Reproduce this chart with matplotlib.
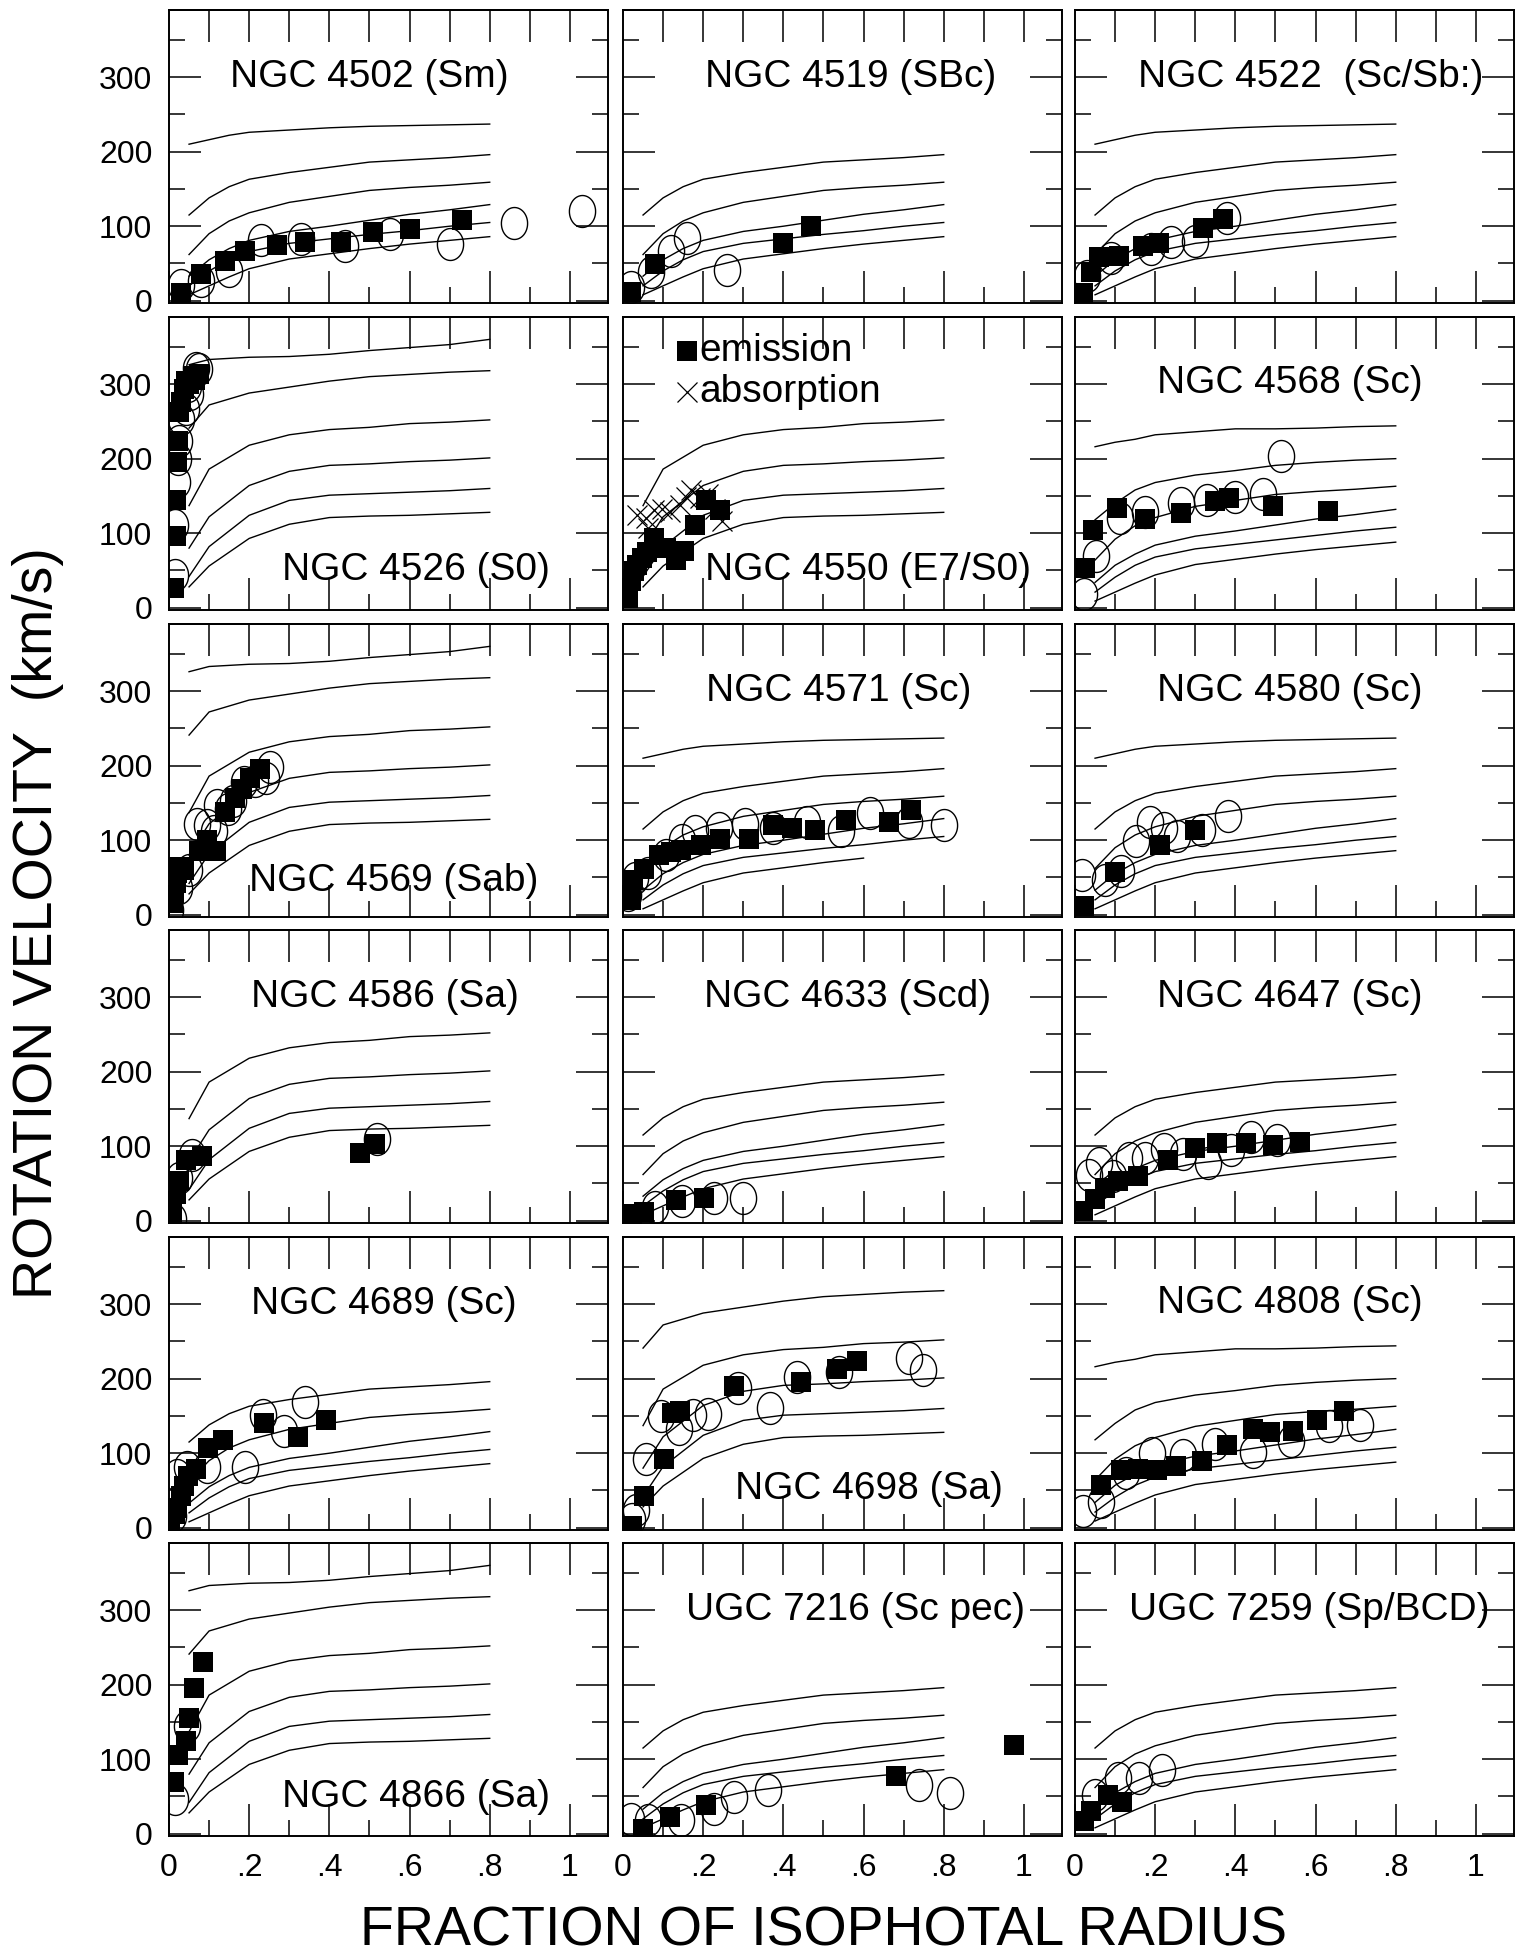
import numpy as np
import matplotlib
matplotlib.use('Agg')
import matplotlib.pyplot as plt
from matplotlib.path import Path
from matplotlib.ticker import MultipleLocator, FuncFormatter

plt.rcParams['font.family'] = ['Liberation Sans', 'DejaVu Sans']

# model rotation curves
late_r = [0.05, 0.1, 0.15, 0.2, 0.3, 0.4, 0.5, 0.6, 0.7, 0.8]
late_v = [[210, 216, 222, 226, 229, 232, 234, 235, 236, 237],
          [115, 138, 153, 163, 172, 179, 186, 189, 192, 196],
          [62, 90, 107, 118, 132, 140, 148, 152, 155, 159],
          [33, 55, 70, 81, 93, 100, 108, 116, 122, 129],
          [20, 40, 55, 66, 77, 83, 89, 94, 100, 105],
          [8, 20, 32, 43, 56, 63, 70, 76, 81, 86]]
sc_v = [[216, 222, 226, 232, 236, 240, 240, 241, 243, 244],
        [118, 140, 158, 168, 178, 184, 191, 195, 198, 200],
        [64, 92, 110, 121, 136, 144, 152, 156, 159, 163],
        [34, 57, 72, 84, 96, 103, 111, 119, 125, 132],
        [21, 41, 57, 68, 79, 85, 91, 97, 103, 108],
        [9, 21, 33, 44, 58, 65, 72, 78, 83, 88]]
early_r = [0.05, 0.1, 0.2, 0.3, 0.4, 0.5, 0.6, 0.7, 0.8]
early_v = [[326, 333, 336, 337, 340, 345, 349, 353, 360],
           [241, 272, 288, 296, 304, 310, 313, 316, 318],
           [137, 186, 218, 232, 239, 242, 247, 249, 252],
           [80, 122, 164, 183, 191, 193, 196, 198, 201],
           [42, 82, 124, 144, 151, 153, 155, 157, 160],
           [28, 56, 93, 112, 121, 123, 124, 126, 128]]

# observed points: sq = emission, ci = open circles, cr = absorption
n4502_sq_x = [0.03, 0.08, 0.14, 0.19, 0.27, 0.34, 0.43, 0.51, 0.60, 0.73]
n4502_sq_y = [11, 36, 54, 67, 75, 79, 79, 92, 96, 108]
n4502_ci_x = [0.03, 0.08, 0.15, 0.23, 0.33, 0.44, 0.55, 0.70, 0.86, 1.03]
n4502_ci_y = [21, 27, 40, 81, 83, 73, 89, 76, 104, 121]

n4519_sq_x = [0.02, 0.08, 0.40, 0.47]
n4519_sq_y = [12, 49, 78, 100]
n4519_ci_x = [0.02, 0.07, 0.12, 0.16, 0.26]
n4519_ci_y = [18, 38, 67, 84, 41]

n4522_sq_x = [0.02, 0.04, 0.06, 0.11, 0.17, 0.21, 0.32, 0.37]
n4522_sq_y = [11, 38, 59, 60, 73, 78, 97, 109]
n4522_ci_x = [0.03, 0.09, 0.19, 0.24, 0.30, 0.38]
n4522_ci_y = [33, 58, 70, 79, 80, 111]

n4526_sq_x = [0.012, 0.017, 0.017, 0.020, 0.022, 0.026, 0.031, 0.037, 0.042, 0.05, 0.059, 0.065, 0.076]
n4526_sq_y = [27, 96, 144, 196, 224, 262, 276, 293, 304, 300, 311, 305, 313]
n4526_ci_x = [0.014, 0.014, 0.020, 0.023, 0.026, 0.031, 0.042, 0.048, 0.053, 0.068, 0.076]
n4526_ci_y = [44, 111, 169, 200, 224, 253, 267, 298, 287, 322, 320]

n4550_sq_x = [0.005, 0.013, 0.019, 0.028, 0.036, 0.047, 0.06, 0.077, 0.077, 0.108, 0.132, 0.152, 0.18, 0.208, 0.241]
n4550_sq_y = [15, 13, 36, 49, 58, 67, 75, 84, 93, 80, 64, 76, 111, 144, 131]
n4550_cr_x = [0.036, 0.058, 0.063, 0.077, 0.097, 0.117, 0.141, 0.158, 0.169, 0.191, 0.213, 0.23, 0.247]
n4550_cr_y = [124, 120, 107, 131, 133, 129, 138, 149, 158, 147, 153, 133, 116]

n4568_sq_x = [0.026, 0.045, 0.105, 0.175, 0.264, 0.348, 0.384, 0.495, 0.63]
n4568_sq_y = [53, 104, 134, 119, 127, 143, 147, 136, 130]
n4568_ci_x = [0.023, 0.053, 0.112, 0.175, 0.264, 0.329, 0.40, 0.468, 0.513]
n4568_ci_y = [18, 70, 120, 128, 140, 144, 148, 153, 204]

n4569_sq_x = [0.009, 0.012, 0.017, 0.020, 0.026, 0.037, 0.076, 0.094, 0.117, 0.14, 0.164, 0.183, 0.203, 0.226]
n4569_sq_y = [16, 29, 42, 56, 64, 60, 86, 100, 86, 138, 156, 169, 184, 196]
n4569_ci_x = [0.003, 0.026, 0.05, 0.07, 0.094, 0.112, 0.12, 0.148, 0.159, 0.187, 0.214, 0.242, 0.253]
n4569_ci_y = [7, 36, 60, 122, 120, 113, 147, 142, 153, 178, 180, 184, 198]

n4571_sq_x = [0.019, 0.024, 0.052, 0.09, 0.12, 0.145, 0.194, 0.243, 0.314, 0.375, 0.421, 0.479, 0.557, 0.664, 0.719]
n4571_sq_y = [20, 47, 62, 80, 84, 87, 94, 102, 101, 120, 117, 114, 127, 124, 141]
n4571_ci_x = [0.013, 0.03, 0.063, 0.108, 0.147, 0.18, 0.239, 0.304, 0.375, 0.459, 0.543, 0.615, 0.713, 0.80]
n4571_ci_y = [27, 49, 56, 80, 100, 113, 117, 122, 117, 125, 112, 136, 124, 120]

n4580_sq_x = [0.023, 0.099, 0.212, 0.299]
n4580_sq_y = [12, 57, 94, 114]
n4580_ci_x = [0.017, 0.075, 0.114, 0.151, 0.186, 0.222, 0.255, 0.316, 0.381]
n4580_ci_y = [54, 46, 59, 99, 125, 117, 105, 114, 132]

n4586_sq_x = [0.007, 0.018, 0.026, 0.042, 0.083, 0.476, 0.514]
n4586_sq_y = [9, 36, 53, 82, 87, 91, 103]
n4586_ci_x = [0.009, 0.026, 0.057, 0.518]
n4586_ci_y = [2, 57, 88, 109]

n4633_sq_x = [0.022, 0.052, 0.133, 0.202]
n4633_sq_y = [9, 12, 28, 30]
n4633_ci_x = [0.08, 0.147, 0.227, 0.30]
n4633_ci_y = [18, 27, 31, 31]

n4647_sq_x = [0.021, 0.049, 0.075, 0.108, 0.156, 0.231, 0.299, 0.355, 0.426, 0.494, 0.56]
n4647_sq_y = [13, 29, 44, 53, 60, 82, 98, 104, 104, 102, 106]
n4647_ci_x = [0.036, 0.06, 0.095, 0.134, 0.175, 0.221, 0.27, 0.331, 0.39, 0.439, 0.504]
n4647_ci_y = [62, 78, 60, 84, 84, 96, 89, 78, 95, 113, 108]

n4689_sq_x = [0.003, 0.014, 0.02, 0.031, 0.037, 0.048, 0.067, 0.098, 0.134, 0.237, 0.322, 0.392]
n4689_sq_y = [1, 18, 27, 42, 56, 69, 79, 107, 118, 141, 122, 144]
n4689_ci_x = [0.009, 0.02, 0.044, 0.094, 0.19, 0.234, 0.287, 0.34]
n4689_ci_y = [16, 71, 82, 81, 81, 151, 130, 169]

n4698_sq_x = [0.022, 0.052, 0.102, 0.122, 0.143, 0.276, 0.443, 0.534, 0.583]
n4698_sq_y = [2, 43, 92, 154, 156, 190, 196, 213, 224]
n4698_ci_x = [0.022, 0.032, 0.058, 0.094, 0.139, 0.174, 0.211, 0.287, 0.366, 0.434, 0.538, 0.713, 0.749]
n4698_ci_y = [12, 24, 92, 150, 132, 151, 153, 187, 160, 202, 209, 228, 211]

n4808_sq_x = [0.065, 0.114, 0.156, 0.205, 0.251, 0.318, 0.378, 0.443, 0.487, 0.543, 0.604, 0.67]
n4808_sq_y = [57, 77, 79, 78, 83, 90, 111, 133, 129, 130, 144, 156]
n4808_ci_x = [0.021, 0.066, 0.127, 0.192, 0.27, 0.348, 0.445, 0.539, 0.634, 0.712]
n4808_ci_y = [22, 34, 73, 100, 98, 113, 101, 117, 136, 138]

n4866_sq_x = [0.012, 0.023, 0.042, 0.05, 0.062, 0.084]
n4866_sq_y = [69, 105, 125, 155, 195, 230]
n4866_ci_x = [0.014, 0.046]
n4866_ci_y = [47, 144]

u7216_sq_x = [0.049, 0.116, 0.207, 0.681, 0.975]
u7216_sq_y = [7, 23, 38, 78, 119]
u7216_ci_x = [0.019, 0.063, 0.144, 0.227, 0.278, 0.362, 0.739, 0.815]
u7216_ci_y = [20, 19, 19, 33, 49, 59, 65, 55]

u7259_sq_x = [0.023, 0.04, 0.082, 0.117]
u7259_sq_y = [17, 31, 52, 43]
u7259_ci_x = [0.049, 0.108, 0.16, 0.216]
u7259_ci_y = [52, 75, 75, 86]

# panel table: title, label position, curve family, curves shown, points
panels = [
    ('NGC 4502 (Sm)', 0.50, 300, 'late', [0, 1, 2, 3, 4, 5], (n4502_sq_x, n4502_sq_y), (n4502_ci_x, n4502_ci_y), None),
    ('NGC 4519 (SBc)', 0.567, 300, 'late', [1, 2, 3, 4, 5], (n4519_sq_x, n4519_sq_y), (n4519_ci_x, n4519_ci_y), None),
    ('NGC 4522  (Sc/Sb:)', 0.587, 300, 'late', [0, 1, 2, 3, 4, 5], (n4522_sq_x, n4522_sq_y), (n4522_ci_x, n4522_ci_y), None),
    ('NGC 4526 (S0)', 0.617, 50, 'early', [0, 1, 2, 3, 4, 5], (n4526_sq_x, n4526_sq_y), (n4526_ci_x, n4526_ci_y), None),
    ('NGC 4550 (E7/S0)', 0.61, 50, 'early', [2, 3, 4, 5], (n4550_sq_x, n4550_sq_y), None, (n4550_cr_x, n4550_cr_y)),
    ('NGC 4568 (Sc)', 0.535, 302, 'sc', [0, 1, 2, 3, 4, 5], (n4568_sq_x, n4568_sq_y), (n4568_ci_x, n4568_ci_y), None),
    ('NGC 4569 (Sab)', 0.56, 45, 'early', [0, 1, 2, 3, 4, 5], (n4569_sq_x, n4569_sq_y), (n4569_ci_x, n4569_ci_y), None),
    ('NGC 4571 (Sc)', 0.537, 300, 'late', [0, 1, 2, 3, 4, 5], (n4571_sq_x, n4571_sq_y), (n4571_ci_x, n4571_ci_y), None),
    ('NGC 4580 (Sc)', 0.535, 300, 'late', [0, 1, 2, 3, 4, 5], (n4580_sq_x, n4580_sq_y), (n4580_ci_x, n4580_ci_y), None),
    ('NGC 4586 (Sa)', 0.538, 300, 'early', [2, 3, 4, 5], (n4586_sq_x, n4586_sq_y), (n4586_ci_x, n4586_ci_y), None),
    ('NGC 4633 (Scd)', 0.56, 300, 'late', [1, 2, 3, 4, 5], (n4633_sq_x, n4633_sq_y), (n4633_ci_x, n4633_ci_y), None),
    ('NGC 4647 (Sc)', 0.535, 300, 'late', [1, 2, 3, 4, 5], (n4647_sq_x, n4647_sq_y), (n4647_ci_x, n4647_ci_y), None),
    ('NGC 4689 (Sc)', 0.537, 300, 'late', [1, 2, 3, 4, 5], (n4689_sq_x, n4689_sq_y), (n4689_ci_x, n4689_ci_y), None),
    ('NGC 4698 (Sa)', 0.614, 52, 'early', [1, 2, 3, 4, 5], (n4698_sq_x, n4698_sq_y), (n4698_ci_x, n4698_ci_y), None),
    ('NGC 4808 (Sc)', 0.535, 302, 'sc', [0, 1, 2, 3, 4, 5], (n4808_sq_x, n4808_sq_y), (n4808_ci_x, n4808_ci_y), None),
    ('NGC 4866 (Sa)', 0.617, 49, 'early', [0, 1, 2, 3, 4, 5], (n4866_sq_x, n4866_sq_y), (n4866_ci_x, n4866_ci_y), None),
    ('UGC 7216 (Sc pec)', 0.58, 300, 'late', [1, 2, 3, 4, 5], (u7216_sq_x, u7216_sq_y), (u7216_ci_x, u7216_ci_y), None),
    ('UGC 7259 (Sp/BCD)', 0.585, 300, 'late', [1, 2, 3, 4, 5], (u7259_sq_x, u7259_sq_y), (u7259_ci_x, u7259_ci_y), None),
]
families = {'late': (late_r, late_v), 'sc': (late_r, sc_v), 'early': (early_r, early_v)}
curve_cut = {'NGC 4571 (Sc)': (5, 0.6)}

W, H = 1515, 1959
fig = plt.figure(figsize=(W / 100, H / 100), dpi=100)

col_left = [169, 623, 1075]
row_top = [10, 317, 624, 930, 1237, 1543]
pw, ph = 439, 293

t = np.linspace(0, 2 * np.pi, 64)
ellipse = Path(np.column_stack([0.82 * np.cos(t), np.sin(t)]))


def xfmt(v, pos):
    if abs(v) < 1e-6:
        return '0'
    if abs(v - 1) < 1e-6:
        return '1'
    return ('%.1f' % v).lstrip('0')


for i, (title, tx, ty, fam, curves, sq, ci, cr) in enumerate(panels):
    row, col = divmod(i, 3)
    ax = fig.add_axes([col_left[col] / W, 1 - (row_top[row] + ph) / H, pw / W, ph / H])

    r, vv = families[fam]
    for k in curves:
        xs, ys = np.array(r), np.array(vv[k])
        if title in curve_cut and curve_cut[title][0] == k:
            keep = xs <= curve_cut[title][1] + 1e-9
            xs, ys = xs[keep], ys[keep]
        ax.plot(xs, ys, color='black', lw=1.0)

    if ci is not None:
        ax.plot(ci[0], ci[1], linestyle='none', marker=ellipse, ms=23,
                mfc='none', mec='black', mew=1.0)
    if cr is not None:
        ax.plot(cr[0], cr[1], linestyle='none', marker='x', ms=15,
                color='black', mew=0.9)
    ax.plot(sq[0], sq[1], linestyle='none', marker='s', ms=15,
            color='black', mew=0)

    ax.text(tx, ty, title, ha='center', va='center', fontsize=28)

    if title.startswith('NGC 4550'):
        ax.plot([0.16], [345], linestyle='none', marker='s', ms=15, color='black', mew=0)
        ax.text(0.19, 345, 'emission', ha='left', va='center', fontsize=28)
        ax.plot([0.16], [289], linestyle='none', marker='x', ms=15, color='black', mew=0.9)
        ax.text(0.19, 289, 'absorption', ha='left', va='center', fontsize=28)

    ax.set_xlim(0, 1.095)
    ax.set_ylim(-3, 390)
    ax.xaxis.set_major_locator(MultipleLocator(0.2))
    ax.xaxis.set_minor_locator(MultipleLocator(0.1))
    ax.yaxis.set_major_locator(MultipleLocator(100))
    ax.yaxis.set_minor_locator(MultipleLocator(50))
    ax.xaxis.set_major_formatter(FuncFormatter(xfmt))
    ax.tick_params(which='major', direction='in', length=23, width=1.1,
                   left=True, right=True, bottom=True, top=False,
                   labelsize=23, pad=12)
    ax.tick_params(which='minor', direction='in', length=11.5, width=1.1,
                   left=True, right=True, bottom=True, top=False)
    ax.tick_params(labelleft=(col == 0), labelbottom=(row == 5))

    sec = ax.secondary_xaxis('top')
    sec.set_xticks(np.arange(0.1, 1.05, 0.1))
    sec.xaxis.set_ticklabels([])
    sec.tick_params(direction='in', length=23, width=1.1)
    sec.spines['top'].set_linewidth(1.4)

    for s in ax.spines.values():
        s.set_linewidth(1.4)

fig.text(38 / W, 1 - 923 / H, 'ROTATION VELOCITY  (km/s)', rotation=90,
         ha='center', va='center', fontsize=40)
fig.text(824 / W, 1 - 1931 / H, 'FRACTION OF ISOPHOTAL RADIUS',
         ha='center', va='center', fontsize=40)

fig.savefig('out.png', dpi=100)
